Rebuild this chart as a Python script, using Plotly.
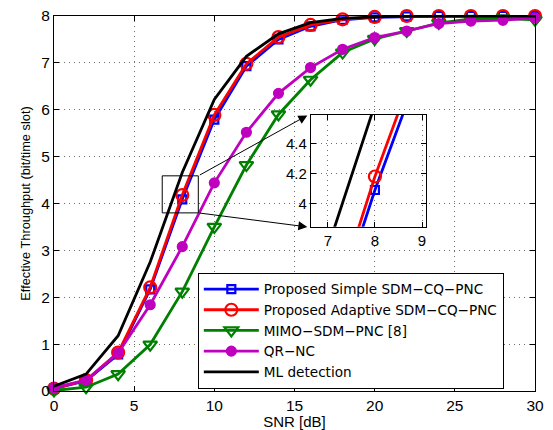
import plotly.graph_objects as go

snr = [0, 2, 4, 6, 8, 10, 12, 14, 16, 18, 20, 22, 24, 26, 28, 30]
simple = [0.05, 0.22, 0.78, 2.17, 4.09, 5.79, 6.93, 7.50, 7.78, 7.92, 7.97, 7.99, 8.0, 8.0, 8.0, 8.0]
adaptive = [0.05, 0.23, 0.82, 2.21, 4.18, 5.89, 6.98, 7.55, 7.81, 7.93, 7.98, 8.0, 8.0, 8.0, 8.0, 8.0]
mimo = [0.01, 0.08, 0.36, 0.99, 2.12, 3.50, 4.82, 5.90, 6.64, 7.22, 7.51, 7.68, 7.85, 7.94, 7.95, 7.92]
qrnc = [0.07, 0.23, 0.81, 1.84, 3.08, 4.44, 5.52, 6.35, 6.90, 7.29, 7.54, 7.68, 7.84, 7.89, 7.91, 7.96]
ml = [0.10, 0.36, 1.18, 2.75, 4.66, 6.22, 7.14, 7.62, 7.86, 7.95, 7.98, 8.0, 8.0, 8.0, 8.0, 8.0]
x_ticks = [0, 5, 10, 15, 20, 25, 30]
y_ticks = [0, 1, 2, 3, 4, 5, 6, 7, 8]
inset_x_ticks = [7, 8, 9]
inset_y_ticks = [4, 4.2, 4.4]
inset_y_labels = ["4", "4.2", "4.4"]

names = ["Proposed Simple SDM\u2212CQ\u2212PNC", "Proposed Adaptive SDM\u2212CQ\u2212PNC",
         "MIMO\u2212SDM\u2212PNC [8]", "QR\u2212NC", "ML detection"]
series = [simple, adaptive, mimo, qrnc, ml]
colors = ["#0000FF", "#FF0000", "#008000", "#BF00BF", "#000000"]
symbols = ["square-open", "circle-open", "triangle-down-open", "circle", None]
msizes = [8, 12, 12, 9, 0]

FONT = "Liberation Sans, Arial, sans-serif"
LEGFONT = "DejaVu Sans, Liberation Sans, sans-serif"
fig = go.Figure()

for ax in ["main", "inset"]:
    for nm, ys, c, sym, ms in zip(names, series, colors, symbols, msizes):
        kw = dict(x=snr, y=ys, name=nm, line=dict(color=c, width=2.8),
                  showlegend=(ax == "main"))
        if sym:
            kw["mode"] = "lines+markers"
            kw["marker"] = dict(symbol=sym, size=ms, color=c, line=dict(color=c, width=2.2))
        else:
            kw["mode"] = "lines"
        if ax == "main":
            kw["cliponaxis"] = False
        else:
            kw["xaxis"] = "x2"
            kw["yaxis"] = "y2"
        fig.add_trace(go.Scatter(**kw))

grid = dict(showgrid=True, gridcolor="#707070", griddash="1px,4px", gridwidth=1,
            showline=True, linecolor="black", linewidth=1.2, mirror="ticks",
            ticks="inside", ticklen=5, tickcolor="black", zeroline=False,
            ticklabeloverflow="allow")

# the page body has an 8px margin; size the figure so the plot area lands where the reference has it
fig.update_layout(
    width=545, height=422,
    margin=dict(l=46, r=18, t=8, b=39, autoexpand=False),
    paper_bgcolor="white", plot_bgcolor="white",
    font=dict(family=FONT, color="black"),
    xaxis=dict(range=[0, 30], tickvals=x_ticks,
               tickfont=dict(size=15.5), domain=[0, 1], automargin=False,
               title=dict(text="SNR [dB]", font=dict(size=15), standoff=0), **grid),
    yaxis=dict(range=[0, 8], tickvals=y_ticks, tickfont=dict(size=15.5), domain=[0, 1], automargin=False,
               title=dict(text="Effective Throughput (bit/time slot)", font=dict(size=12.8), standoff=7),
               **grid),
    xaxis2=dict(range=[6.64, 9.08], tickvals=inset_x_ticks, domain=[0.534, 0.773], anchor="y2",
                tickfont=dict(size=15), automargin=False, **grid),
    yaxis2=dict(range=[3.845, 4.59], tickvals=inset_y_ticks, ticktext=inset_y_labels,
                domain=[0.438, 0.736], anchor="x2", tickfont=dict(size=15), automargin=False, **grid),
    legend=dict(x=0.299, y=0.006, xanchor="left", yanchor="bottom",
                bgcolor="white", bordercolor="black", borderwidth=1, itemwidth=55,
                font=dict(size=13.6, family=LEGFONT), tracegroupgap=0),
    showlegend=True,
)

# white background for inset
fig.add_shape(type="rect", xref="x2", yref="y2", x0=6.64, x1=9.08, y0=3.845, y1=4.59,
              fillcolor="white", line=dict(width=0), layer="below")
# zoom rectangle on main plot
fig.add_shape(type="rect", xref="x", yref="y", x0=6.75, x1=9.0, y0=3.8, y1=4.59,
              line=dict(color="black", width=1), layer="above")
# arrows
fig.add_annotation(x=15.8, y=5.88, ax=9.0, ay=4.59, xref="x", yref="y", axref="x", ayref="y",
                   showarrow=True, arrowhead=2, arrowsize=1.8, arrowwidth=1, arrowcolor="black", text="")
fig.add_annotation(x=15.8, y=3.5, ax=9.0, ay=3.8, xref="x", yref="y", axref="x", ayref="y",
                   showarrow=True, arrowhead=2, arrowsize=1.8, arrowwidth=1, arrowcolor="black", text="")

fig.write_html("out.html")
